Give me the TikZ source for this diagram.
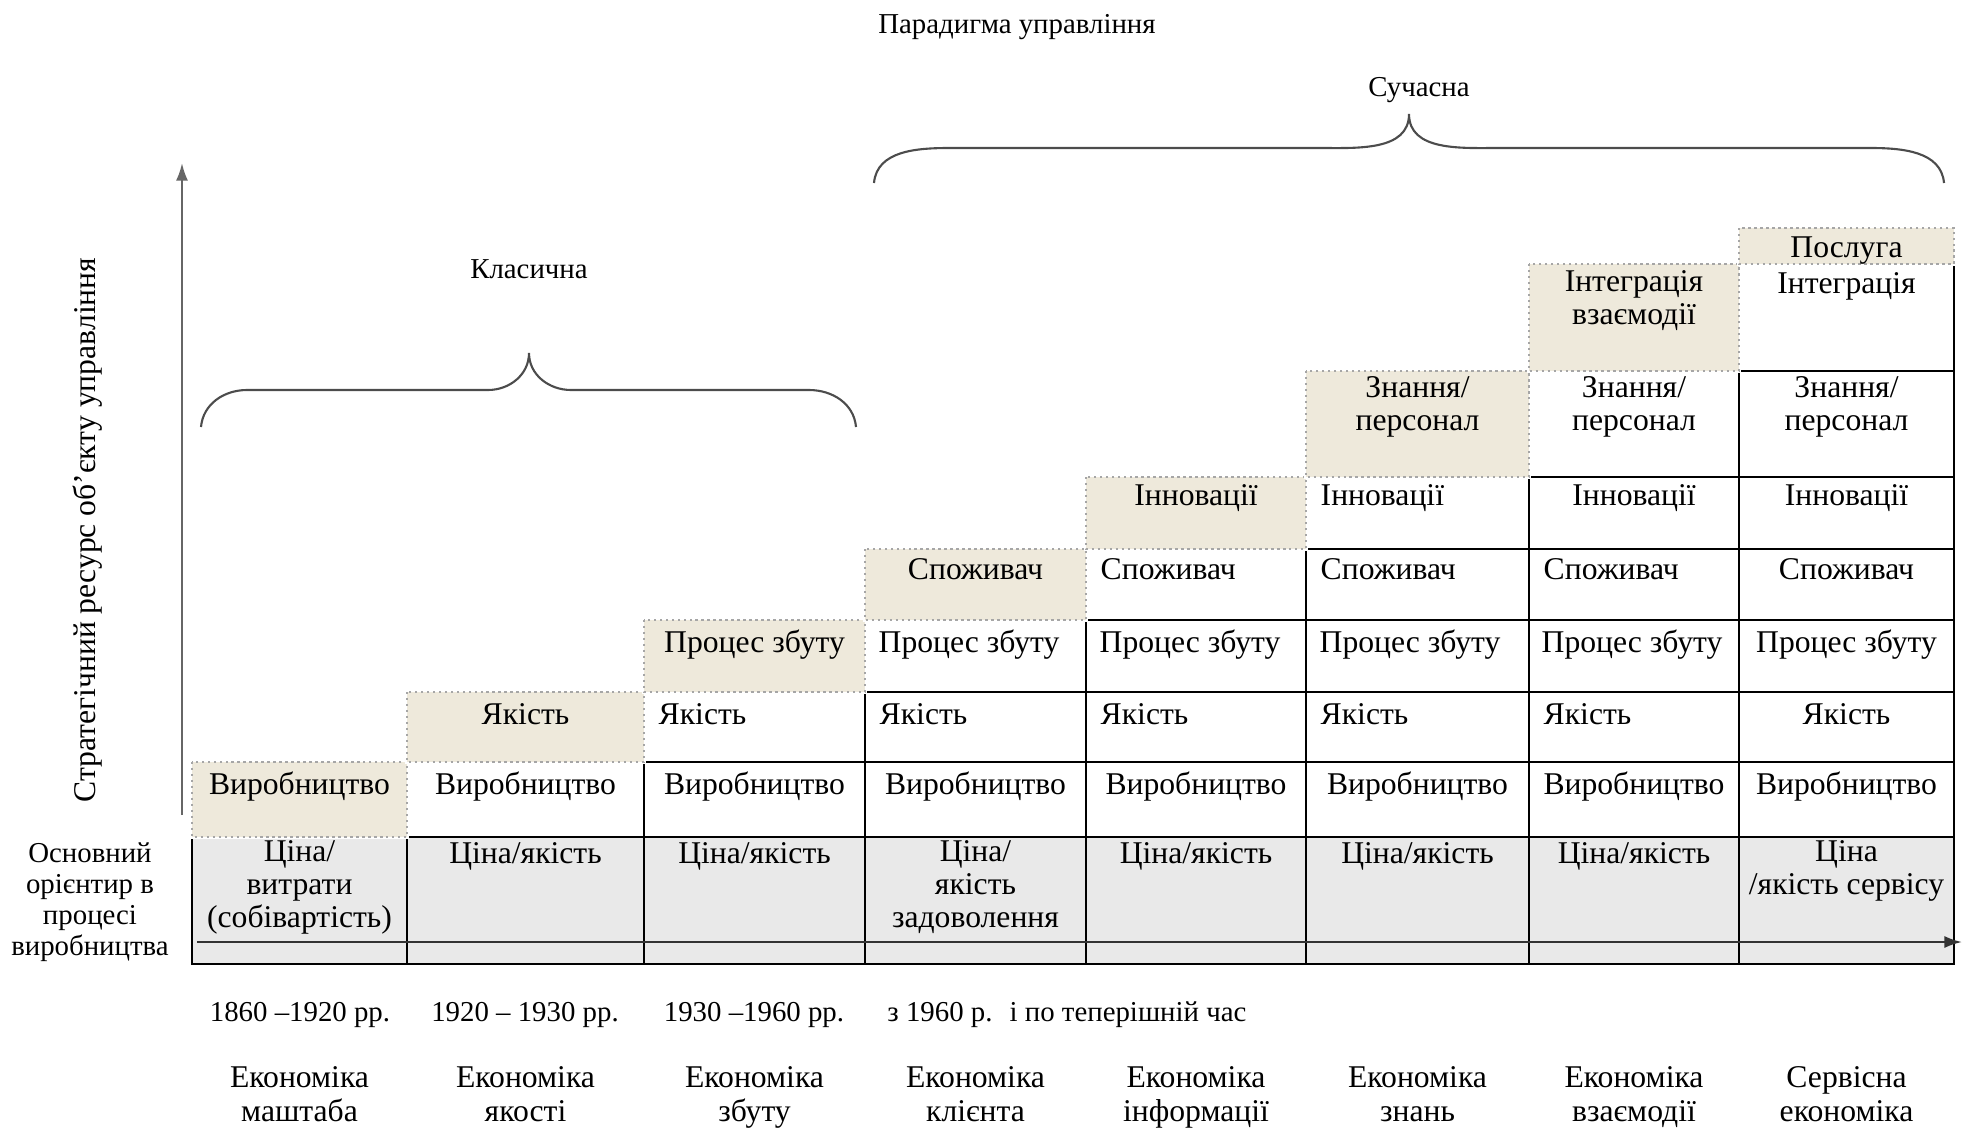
\documentclass[tikz,border=0pt]{standalone}
\usepackage{fontspec}
\setmainfont{Liberation Serif}
\usetikzlibrary{positioning,arrows.meta}
\definecolor{leadfill}{RGB}{238,233,219}
\definecolor{pricefill}{RGB}{233,233,233}
\newcommand{\cellfont}{\fontsize{9}{9.4}\selectfont}
\newcommand{\lblfont}{\fontsize{8.2}{8.8}\selectfont}
\newcommand{\erafont}{\fontsize{9}{9.6}\selectfont}
\tikzset{cellline/.style={draw=black,line width=0.6pt}}
\tikzset{leadcell/.style={fill=leadfill,preaction={draw=white,solid,line width=1.2pt},draw=gray!70,densely dotted,line width=0.7pt}}
\tikzset{pricecell/.style={fill=pricefill,draw=black,line width=0.6pt}}
\tikzset{txt/.style={inner sep=0pt,anchor=north,align=center,font=\cellfont,execute at begin node=\strut}}
\tikzset{ltxt/.style={txt,anchor=north west,align=left}}
\tikzset{lbl/.style={inner sep=0pt,anchor=base,font=\lblfont}}
\tikzset{era/.style={inner sep=0pt,anchor=north,align=center,font=\erafont,execute at begin node=\strut}}
\tikzset{bracecurve/.style={draw=black!70,line width=0.6pt}}
\tikzset{axisline/.style={-{Latex[length=5pt,width=3.4pt]},draw=gray!80!black,line width=0.6pt}}

\begin{document}
\begin{tikzpicture}[x=0.01cm,y=-0.01cm]
	\useasboundingbox (0,0) rectangle (1964,1127);

	% headings and braces
	\node[lbl] (title) at (1017,34) {Парадигма управління};
	\node[lbl] (modern) at (1419,97) {Сучасна};
	\node[lbl] (classic) at (529,278) {Класична};
	\draw[bracecurve] (874,183) to[out=85,in=180] (950,148) -- (1320,148) to[out=0,in=-90] (1409,114)
		to[out=-90,in=180] (1498,148) -- (1870,148) to[out=0,in=95] (1944,183);
	\draw[bracecurve] (201,427) to[out=85,in=180] (247,390) -- (488,390) to[out=0,in=-90] (529,353)
		to[out=-90,in=180] (571,390) -- (809,390) to[out=0,in=95] (856,427);

	% vertical axis
	\coordinate (ybot) at (182,815);
	\coordinate (ytop) at (182,163);
	\draw[axisline] (ybot) -- (ytop);
	\node[rotate=90,inner sep=0pt,font=\cellfont] (yaxis) at (88,530) {Стратегічний ресурс об’єкту управління};

	% bottom row
	\draw[pricecell] (192,837) rectangle (407,964);
	\draw[pricecell] (407,837) rectangle (644,964);
	\draw[pricecell] (644,837) rectangle (865,964);
	\draw[pricecell] (865,837) rectangle (1086,964);
	\draw[pricecell] (1086,837) rectangle (1306,964);
	\draw[pricecell] (1306,837) rectangle (1529,964);
	\draw[pricecell] (1529,837) rectangle (1739,964);
	\draw[pricecell] (1739,837) rectangle (1954,964);

	% white cells
	\draw[cellline] (407,762) rectangle (644,837);
	\draw[cellline] (644,692) rectangle (865,837);
	\draw[cellline] (865,620) rectangle (1086,837);
	\draw[cellline] (1086,549) rectangle (1306,837);
	\draw[cellline] (1306,477) rectangle (1529,837);
	\draw[cellline] (1529,371) rectangle (1739,837);
	\draw[cellline] (1739,264) rectangle (1954,837);
	\draw[cellline] (644,762) -- (1954,762);
	\draw[cellline] (865,692) -- (1954,692);
	\draw[cellline] (1086,620) -- (1954,620);
	\draw[cellline] (1306,549) -- (1954,549);
	\draw[cellline] (1529,477) -- (1954,477);
	\draw[cellline] (1739,371) -- (1954,371);

	% new resource of each stage
	\draw[leadcell] (192,762) rectangle (407,837);
	\draw[leadcell] (407,692) rectangle (644,762);
	\draw[leadcell] (644,620) rectangle (865,692);
	\draw[leadcell] (865,549) rectangle (1086,620);
	\draw[leadcell] (1086,477) rectangle (1306,549);
	\draw[leadcell] (1306,371) rectangle (1529,477);
	\draw[leadcell] (1529,264) rectangle (1739,371);
	\draw[leadcell] (1739,228) rectangle (1954,264);

	% time axis
	\coordinate (xbeg) at (197,942);
	\coordinate (xend) at (1962,942);
	\draw[axisline,draw=black!80] (xbeg) -- (xend);

	\node[txt] (prod1) at (299.5,771) {Виробництво};
	\node[txt] (prod2) at (525.5,771) {Виробництво};
	\node[txt] (prod3) at (754.5,771) {Виробництво};
	\node[txt] (prod4) at (975.5,771) {Виробництво};
	\node[txt] (prod5) at (1196,771) {Виробництво};
	\node[txt] (prod6) at (1417.5,771) {Виробництво};
	\node[txt] (prod7) at (1634,771) {Виробництво};
	\node[txt] (prod8) at (1846.5,771) {Виробництво};

	\node[txt] (qual2) at (525.5,701) {Якість};
	\node[ltxt] (qual3) at (658,701) {Якість};
	\node[ltxt] (qual4) at (879,701) {Якість};
	\node[ltxt] (qual5) at (1100,701) {Якість};
	\node[ltxt] (qual6) at (1320,701) {Якість};
	\node[ltxt] (qual7) at (1543,701) {Якість};
	\node[txt] (qual8) at (1846.5,701) {Якість};

	\node[txt] (sale3) at (754.5,629) {Процес збуту};
	\node[ltxt] (sale4) at (878,629) {Процес збуту};
	\node[ltxt] (sale5) at (1099,629) {Процес збуту};
	\node[ltxt] (sale6) at (1319,629) {Процес збуту};
	\node[ltxt] (sale7) at (1541,629) {Процес збуту};
	\node[txt] (sale8) at (1846.5,629) {Процес збуту};

	\node[txt] (cons4) at (975.5,556) {Споживач};
	\node[ltxt] (cons5) at (1100,556) {Споживач};
	\node[ltxt] (cons6) at (1320,556) {Споживач};
	\node[ltxt] (cons7) at (1543,556) {Споживач};
	\node[txt] (cons8) at (1846.5,556) {Споживач};

	\node[txt] (innov5) at (1196,482) {Інновації};
	\node[ltxt] (innov6) at (1320,482) {Інновації};
	\node[txt] (innov7) at (1634,482) {Інновації};
	\node[txt] (innov8) at (1846.5,482) {Інновації};

	\node[txt] (know6) at (1417.5,376) {Знання/\\персонал};
	\node[txt] (know7) at (1634,376) {Знання/\\персонал};
	\node[txt] (know8) at (1846.5,376) {Знання/\\персонал};

	\node[txt] (integ7) at (1634,270) {Інтеграція\\взаємодії};
	\node[txt] (integ8) at (1846.5,270) {Інтеграція};
	\node[txt] (serv8) at (1846.5,234) {Послуга};

	\node[txt] (price1) at (299.5,840) {Ціна/\\витрати\\(собівартість)};
	\node[txt] (price2) at (525.5,840) {Ціна/якість};
	\node[txt] (price3) at (754.5,840) {Ціна/якість};
	\node[txt] (price4) at (975.5,840) {Ціна/\\якість\\задоволення};
	\node[txt] (price5) at (1196,840) {Ціна/якість};
	\node[txt] (price6) at (1417.5,840) {Ціна/якість};
	\node[txt] (price7) at (1634,840) {Ціна/якість};
	\node[txt] (price8) at (1846.5,840) {Ціна\\/якість сервісу};

	\node[lbl,anchor=north,align=center,execute at begin node=\strut] (orient) at (90,842) {Основний\\орієнтир в\\процесі\\виробництва};

	% periods
	\node[lbl] (date1) at (300,1021) {1860 –1920 рр.};
	\node[lbl] (date2) at (525,1021) {1920 – 1930 рр.};
	\node[lbl] (date3) at (754,1021) {1930 –1960 рр.};
	\node[lbl] (date4) at (940,1021) {з 1960 р.};
	\node[lbl] (date5) at (1128,1021) {і по теперішній час};

	\node[era] (era1) at (299.5,1066) {Економіка\\маштаба};
	\node[era] (era2) at (525.5,1066) {Економіка\\якості};
	\node[era] (era3) at (754.5,1066) {Економіка\\збуту};
	\node[era] (era4) at (975.5,1066) {Економіка\\клієнта};
	\node[era] (era5) at (1196,1066) {Економіка\\інформації};
	\node[era] (era6) at (1417.5,1066) {Економіка\\знань};
	\node[era] (era7) at (1634,1066) {Економіка\\взаємодії};
	\node[era] (era8) at (1846.5,1066) {Сервісна\\економіка};
\end{tikzpicture}
\end{document}
